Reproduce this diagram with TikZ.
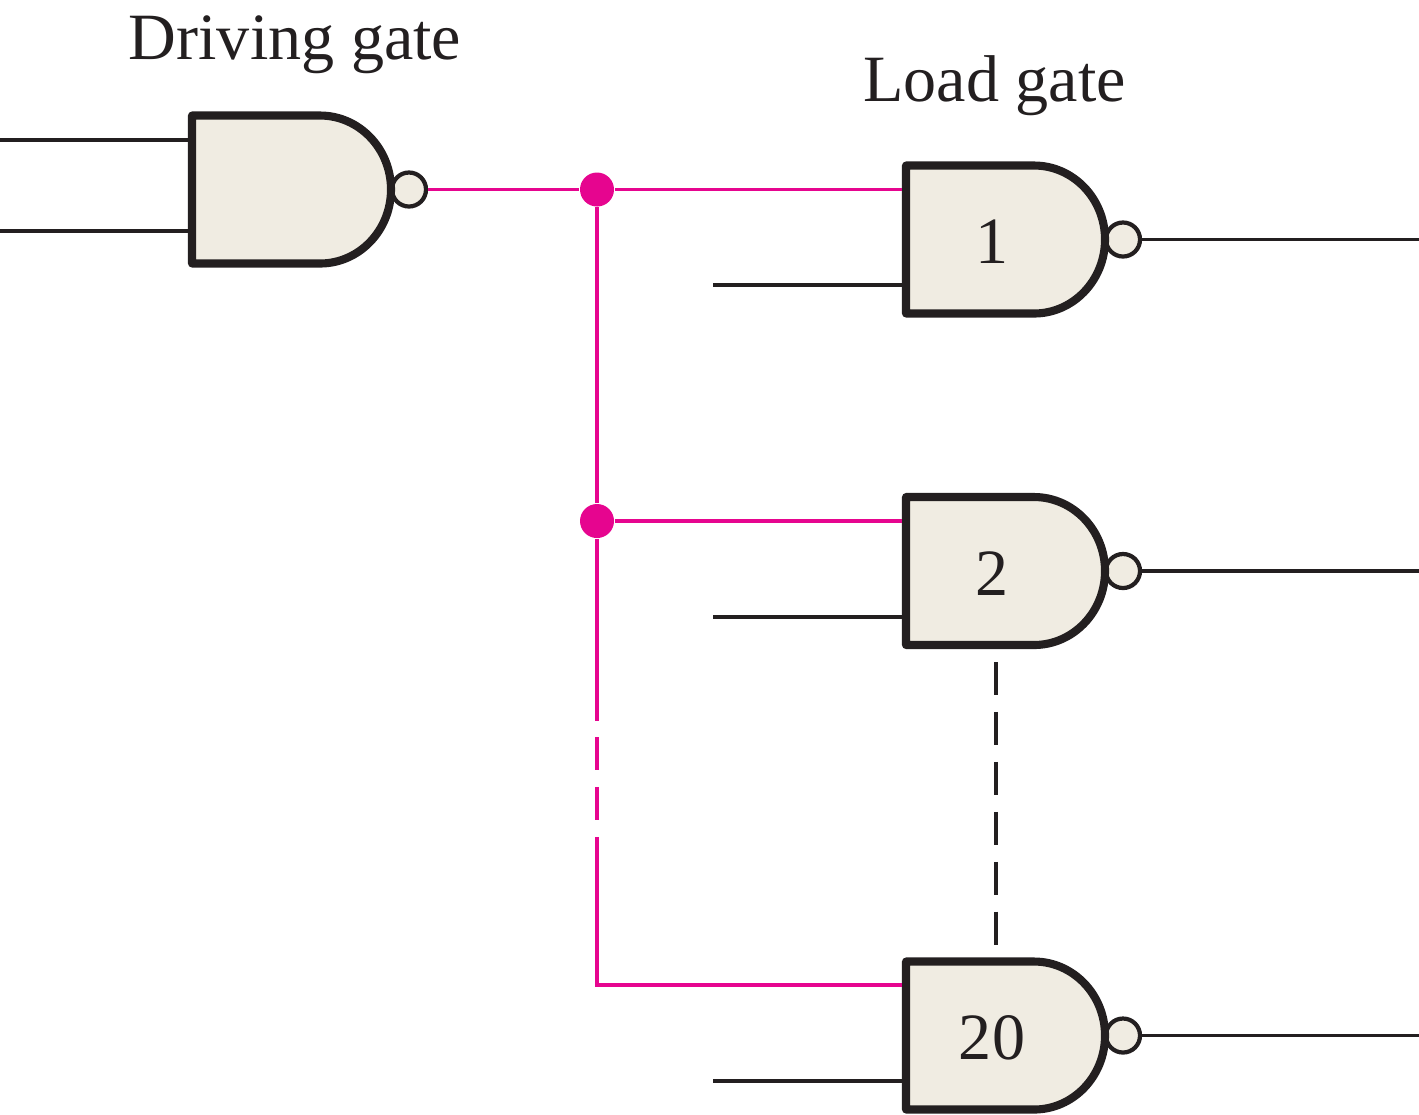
\documentclass[tikz,border=0pt]{standalone}
\usepackage{fontspec}
\setmainfont{Liberation Serif}
\definecolor{gateink}{HTML}{231F20}
\definecolor{gatefill}{HTML}{F0ECE2}
\definecolor{loadline}{HTML}{E6058F}
\tikzset{
    wire/.style={line width=1pt,gateink},
    loadwire/.style={line width=1pt,loadline},
    gapped/.style={dash pattern=on 9.4pt off 4.8pt},
    junction/.style={circle,fill=loadline,inner sep=0pt,minimum size=0.34cm},
    caption/.style={font=\fontsize{18.8pt}{22pt}\selectfont,text=gateink,inner sep=0pt},
    gatenum/.style={font=\fontsize{18.8pt}{22pt}\selectfont,text=gateink,inner sep=0pt},
    nand/.pic={
        \node[circle,draw=gateink,fill=gatefill,line width=1.2pt,inner sep=0pt,minimum size=0.34cm] (-bub) at (217,0) {};
        \filldraw[draw=gateink,fill=gatefill,line width=2.3pt,line join=round]
            (0,-74) -- (128,-74) .. controls (167,-74) and (199,-41) .. (199,0)
            .. controls (199,41) and (167,74) .. (128,74) -- (0,74) -- cycle;
        \coordinate (-west) at (0,0);
    }
}
\begin{document}
\begin{tikzpicture}[x=0.01cm,y=-0.01cm]
    \useasboundingbox (0,0) rectangle (1419,1114);

    % wires under the gates
    \coordinate (in1) at (0,140);
    \coordinate (in2) at (0,231);
    \coordinate (b1) at (713,285);
    \coordinate (b2) at (713,617);
    \coordinate (b3) at (713,1081);
    \coordinate (out1) at (1419,239.5);
    \coordinate (out2) at (1419,571);
    \coordinate (out3) at (1419,1035.5);

    % gates
    \pic (drv) at (192,189.5) {nand};
    \pic (g1) at (906,239.5) {nand};
    \pic (g2) at (906,571) {nand};
    \pic (g3) at (906,1035.5) {nand};

    \draw[wire] (in1) -- (in1 -| drv-west);
    \draw[wire] (in2) -- (in2 -| drv-west);
    \draw[wire] (b1) -- (b1 -| g1-west);
    \draw[wire] (b2) -- (b2 -| g2-west);
    \draw[wire] (b3) -- (b3 -| g3-west);
    \draw[wire] (g1-bub) -- (out1);
    \draw[wire] (g2-bub) -- (out2);
    \draw[wire] (g3-bub) -- (out3);

    % Labels
    \node[caption] (driving) at (295,45) {Driving gate};
    \node[caption] (load) at (994.5,86) {Load gate};
    \node[gatenum] (n1) at (992,242) {1};
    \node[gatenum] (n2) at (992,574) {2};
    \node[gatenum] (n3) at (992,1038) {20};

    % Load line
    \node[junction] (d1) at (597,189.5) {};
    \node[junction] (d2) at (597,521) {};
    \coordinate (a1) at (902,189.5);
    \coordinate (a2) at (902,521);
    \coordinate (a3) at (902,985);
    \coordinate (gapa) at (597,720);
    \coordinate (gapb) at (597,837);
    \draw[loadwire] (drv-bub) -- (d1);
    \draw[loadwire] (d1) -- (a1);
    \draw[loadwire] (d1) -- (d2);
    \draw[loadwire] (d2) -- (a2);
    \draw[loadwire] (d2) -- (gapa);
    \draw[loadwire,gapped,dash phase=-17*0.2845pt] (gapa) -- (gapb);
    \draw[loadwire] (gapb) |- (a3);

    % More gates between 2 and 20
    \coordinate (skipa) at (996,662);
    \coordinate (skipb) at (996,945);
    \draw[line width=1.2pt,gateink,gapped] (skipa) -- (skipb);
\end{tikzpicture}
\end{document}
